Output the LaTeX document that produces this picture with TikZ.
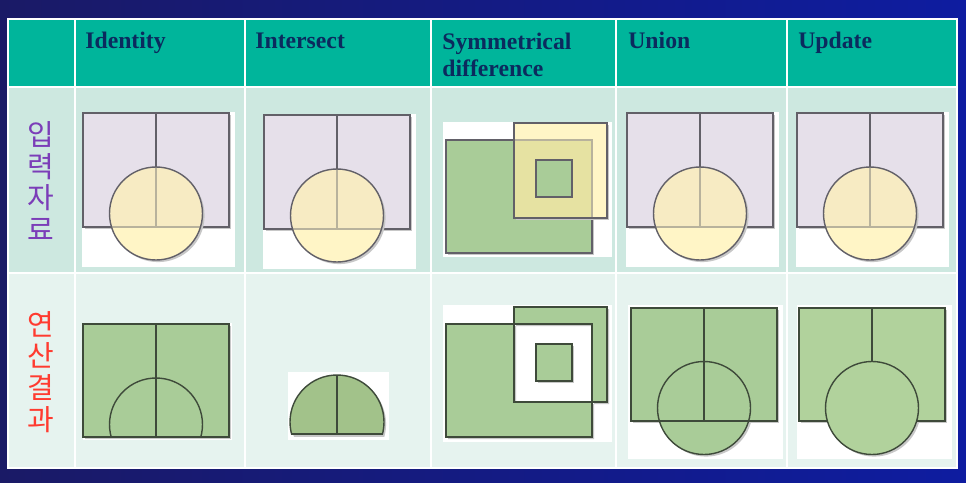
\documentclass[tikz,border=0pt]{standalone}
\usepackage{fontspec}
\setmainfont{Liberation Serif}
\newfontfamily\krfont{Noto Sans CJK KR}
\definecolor{BgDark}{HTML}{1A1A66}
\definecolor{BgBlue}{HTML}{0E1CA0}
\definecolor{HeadTeal}{HTML}{00B59B}
\definecolor{RowIn}{HTML}{CDE8E0}
\definecolor{RowOut}{HTML}{E6F3EF}
\definecolor{HeadText}{HTML}{0B2A5E}
\definecolor{Lavender}{HTML}{E6E0EA}
\definecolor{PaleYellow}{HTML}{FFF5C6}
\definecolor{LavYellow}{HTML}{F7EBC3}
\definecolor{GreenYellow}{HTML}{E6E2A2}
\definecolor{Leaf}{HTML}{A9CC98}
\definecolor{LeafDark}{HTML}{A2C28A}
\definecolor{LeafLight}{HTML}{B1D29C}
\definecolor{EdgeGray}{HTML}{626068}
\definecolor{EdgeDark}{HTML}{3E4A3A}
\definecolor{LabelPurple}{HTML}{7B3DB8}
\definecolor{LabelRed}{HTML}{FF3B30}

\begin{document}
\begin{tikzpicture}[
    x=0.02cm, y=-0.02cm,
    gridline/.style={draw=white, line width=1.2pt},
    headlabel/.style={inner sep=0pt, anchor=base west, text=HeadText, font=\fontsize{13.5}{15.3}\selectfont\bfseries},
    sidelabel/.style={inner sep=0pt, align=center, font=\krfont\fontsize{16.5}{18.1}\selectfont},
    edgein/.style={draw=EdgeGray, line width=0.8pt},
    edgefaint/.style={draw=EdgeGray!45!PaleYellow, line width=0.8pt},
    edgeout/.style={draw=EdgeDark, line width=0.8pt},
    shdw/.style={fill=black!22, xshift=1.2pt, yshift=-1.2pt}
]
\useasboundingbox (0,0) rectangle (966,483);
\shade[left color=BgDark, right color=BgBlue] (0,0) rectangle (966,483);

% Table body
\fill[HeadTeal] (8,19) rectangle (957,87);
\fill[RowIn] (8,87) rectangle (957,273);
\fill[RowOut] (8,273) rectangle (957,468);
\foreach \gx in {75, 245, 431, 616, 787}
  \draw[gridline] (\gx,19) -- (\gx,468);
\draw[gridline] (8,87) -- (957,87);
\draw[gridline] (8,273) -- (957,273);
\draw[gridline] (8,19) rectangle (957,468);

% Header
\node[headlabel] (hIdentity) at (85,49) {Identity};
\node[headlabel] (hIntersect) at (255,49) {Intersect};
\node[headlabel, align=left] (hSymdiff) at (442,76) {Symmetrical\\difference};
\node[headlabel] (hUnion) at (628,49) {Union};
\node[headlabel] (hUpdate) at (798,49) {Update};

% Row labels
\node[sidelabel, text=LabelPurple] (lInput) at (41,181) {입\\력\\자\\료};
\node[sidelabel, text=LabelRed] (lResult) at (41,372) {연\\산\\결\\과};

% Input data: polygon layer with circle
\foreach \ox/\oy in {83/113, 264/115, 627/113, 797/113} {
  \begin{scope}[shift={(\ox,\oy)}]
    \fill[white] (-1,-1) rectangle (152,154);
    \fill[shdw] (0,0) rectangle (146,114);
    \draw[edgein, fill=Lavender] (0,0) rectangle (146,114);
    \draw[edgein] (73,0) -- (73,114);
    \fill[shdw] (73,100.5) circle (46.5);
    \fill[PaleYellow] (73,100.5) circle (46.5);
    \begin{scope}
      \clip (73,100.5) circle (46.5);
      \fill[LavYellow] (0,0) rectangle (146,114);
      \draw[edgefaint] (73,0) -- (73,114);
      \draw[edgefaint] (0,114) -- (146,114);
    \end{scope}
    \draw[edgein] (73,100.5) circle (46.5);
  \end{scope}
}

% Input data: symmetrical difference
\begin{scope}[shift={(443,122)}]
  \fill[white] (0,0) rectangle (169,135);
  \fill[shdw] (3,18) rectangle (149,131);
  \draw[edgein, fill=Leaf] (3,18) rectangle (149,131);
  \fill[shdw] (71,1) rectangle (164,96);
  \fill[PaleYellow] (71,1) rectangle (164,96);
  \begin{scope}
    \clip (71,1) rectangle (164,96);
    \fill[GreenYellow] (3,18) rectangle (149,131);
    \draw[edgefaint] (3,18) rectangle (149,131);
  \end{scope}
  \draw[edgein] (71,1) rectangle (164,96);
  \draw[edgein, fill=Leaf] (93,38) rectangle (129,75);
\end{scope}

% Result: identity
\fill[white] (83,323) rectangle (232,440);
\fill[shdw] (83,324) rectangle (229,437);
\fill[Leaf] (83,324) rectangle (229,437);
\begin{scope}
  \clip (83,324) rectangle (229,437);
  \draw[edgeout] (156,424.5) circle (46.5);
\end{scope}
\draw[edgeout] (83,324) rectangle (229,437);
\draw[edgeout] (156,324) -- (156,437);

% Result: intersect
\fill[white] (288,372) rectangle (389,440);
\begin{scope}[xshift=1.2pt, yshift=-1.2pt]
  \clip (280,360) rectangle (400,434);
  \fill[black!22] (337,422) circle (47);
\end{scope}
\begin{scope}
  \clip (280,360) rectangle (400,434);
  \fill[LeafDark] (337,422) circle (47);
  \draw[edgeout] (337,422) circle (47);
\end{scope}
\draw[edgeout] (291.56,434) -- (382.44,434);
\draw[edgeout] (337,375) -- (337,434);

% Result: symmetrical difference
\begin{scope}[shift={(443,305)}]
  \fill[white] (0,0) rectangle (169,137);
  \fill[shdw, even odd rule] (3,19) rectangle (149,132) (71,2) rectangle (164,97);
  \fill[Leaf, even odd rule] (3,19) rectangle (149,132) (71,2) rectangle (164,97);
  \fill[shdw] (93,39) rectangle (129,76);
  \draw[edgeout, fill=Leaf] (93,39) rectangle (129,76);
  \draw[edgeout] (3,19) rectangle (149,132);
  \draw[edgeout] (71,2) rectangle (164,97);
\end{scope}

% Result: union
\fill[white] (628,305) rectangle (783,459);
\fill[shdw] (631,308) rectangle (777,421);
\fill[shdw] (704,408) circle (46.5);
\fill[Leaf] (631,308) rectangle (777,421);
\fill[Leaf] (704,408) circle (46.5);
\draw[edgeout] (631,308) rectangle (777,421);
\draw[edgeout] (704,408) circle (46.5);
\draw[edgeout] (704,308) -- (704,421);

% Result: update
\fill[white] (797,305) rectangle (952,459);
\fill[shdw] (799,308) rectangle (945,421);
\fill[shdw] (872,408) circle (46.5);
\draw[edgeout, fill=LeafLight] (799,308) rectangle (945,421);
\draw[edgeout, fill=LeafLight] (872,408) circle (46.5);
\draw[edgeout] (872,308) -- (872,361.5);
\end{tikzpicture}
\end{document}
